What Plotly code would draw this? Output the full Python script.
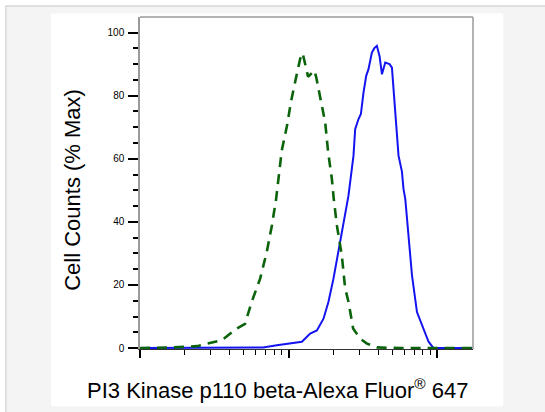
import plotly.graph_objects as go

# ---- data ----
iso_x = [100, 136, 167, 242, 296, 356, 448, 509, 565, 643, 713, 771, 824, 853, 899, 973,
         1040, 1125, 1194, 1242, 1291, 1352, 1419, 1486, 1531, 1629, 1762, 1845, 1954,
         2009, 2113, 2280, 2399, 2529, 2716, 3027, 3365, 3926, 5636, 8974, 17219]
iso_y = [0, 0, 0.2, 0.6, 1.5, 2.5, 6.2, 7.7, 14.7, 22, 30.5, 38.8, 47.3, 53.6, 62.6, 70.3,
         78.4, 86, 91.6, 93.5, 90, 86, 87, 88, 86, 80, 71.5, 62, 53.6,
         47.5, 38.8, 29.3, 19, 14.6, 6.2, 3, 1.4, 0.2, 0, 0, 0]

ab_x = [100, 673, 833, 997, 1228, 1396, 1549, 1716, 1852, 2003, 2164, 2338, 2527, 2731,
        2803, 2952, 3063, 3189, 3325, 3446, 3631, 3763, 3923, 4087, 4245, 4467, 4775,
        4955, 5080, 5215, 5381, 5487, 5781, 5929, 6092, 6415, 6761, 7302, 8086, 8738,
        9437, 17219]
ab_y = [0, 0.2, 0.9, 1.3, 2, 4.6, 5.6, 9.3, 14.6, 22, 30.4, 38.8, 48.3, 61,
        69.4, 72.6, 74.2, 81, 86.3, 88.4, 93.7, 95, 95.8, 92.6, 86.8, 90.5, 90,
        88.9, 82, 74, 65, 61, 56, 50.4, 47.3, 34.6, 23, 11.4, 6.2, 2,
        0, 0]

y_major = [0, 20, 40, 60, 80, 100]
y_minor = [5, 10, 15, 25, 30, 35, 45, 50, 55, 65, 70, 75, 85, 90, 95, 105]
x_major = [100, 1000, 10000]
x_minor = [m * d for d in (100, 1000) for m in range(2, 10)]

x_title = "PI3 Kinase p110 beta-Alexa Fluor<sup>®</sup> 647"
y_title = "Cell Counts (% Max)"

# ---- layout geometry (pixels) ----
W, H = 545, 412
L, R, T, B = 140, 472.7, 16.7, 349.5


def px(x):
    return (x - L) / (R - L)


def py(y):
    return (B - y) / (B - T)


fig = go.Figure()
fig.add_trace(go.Scatter(x=ab_x, y=ab_y, mode="lines",
                         line=dict(color="#1414f0", width=2), hoverinfo="skip"))
fig.add_trace(go.Scatter(x=iso_x, y=iso_y, mode="lines",
                         line=dict(color="#0b640b", width=2.6, dash="10px,7px"),
                         hoverinfo="skip"))

font = "Liberation Sans, Arial, sans-serif"

shapes = [
    # outer light grey frame
    dict(type="rect", xref="paper", yref="paper", x0=px(6), x1=px(W + 5), y0=py(H + 5), y1=py(5.7),
         fillcolor="#f4f4f4", line=dict(color="#d8d8d8", width=1.5), layer="below"),
    # white panel
    dict(type="rect", xref="paper", yref="paper", x0=px(51), x1=px(503), y0=py(407), y1=py(13.3),
         fillcolor="white", line=dict(width=0), layer="below"),
    # top and right frame of plot
    dict(type="line", xref="paper", yref="paper", x0=0, x1=1, y0=1, y1=1,
         line=dict(color="#9a9a9a", width=1.5)),
    dict(type="line", xref="paper", yref="paper", x0=1, x1=1, y0=0, y1=1,
         line=dict(color="#9a9a9a", width=1.5)),
]

fig.update_layout(
    width=W, height=H,
    margin=dict(l=L, r=W - R, t=T, b=H - B, pad=0),
    paper_bgcolor="white", plot_bgcolor="white",
    showlegend=False,
    shapes=shapes,
    font=dict(family=font, color="black"),
    xaxis=dict(type="log", range=[2, 2 + (R - L) / 148.5], showgrid=False, zeroline=False,
               showline=True, linecolor="#333333", linewidth=1.2,
               tickvals=x_major, ticktext=["", "", ""], ticks="outside", ticklen=8,
               tickwidth=2.2, tickcolor="black",
               minor=dict(tickvals=x_minor, ticks="outside", ticklen=5, tickwidth=1.3,
                          tickcolor="black")),
    yaxis=dict(range=[-0.3, (B - T) / 3.162 - 0.3], showgrid=False, zeroline=False,
               showline=True, linecolor="#9a9a9a", linewidth=1.5,
               tickvals=y_major, ticks="outside", ticklen=10, tickwidth=2.2, tickcolor="black",
               tickfont=dict(size=10, family=font), ticklabelstandoff=2,
               minor=dict(tickvals=y_minor, ticks="outside", ticklen=5, tickwidth=1.5,
                          tickcolor="black")),
    annotations=[
        dict(text=x_title, xref="paper", yref="paper", x=px(278), y=py(390),
             showarrow=False, xanchor="center", yanchor="middle",
             font=dict(size=22, family=font, color="black")),
        dict(text=y_title, xref="paper", yref="paper", x=px(73), y=py(190),
             showarrow=False, xanchor="center", yanchor="middle", textangle=-90,
             font=dict(size=22, family=font, color="black")),
    ],
)

fig.write_html("out.html", config={"displayModeBar": False},
               post_script="document.body.style.margin='0';document.body.style.overflow='hidden';")
